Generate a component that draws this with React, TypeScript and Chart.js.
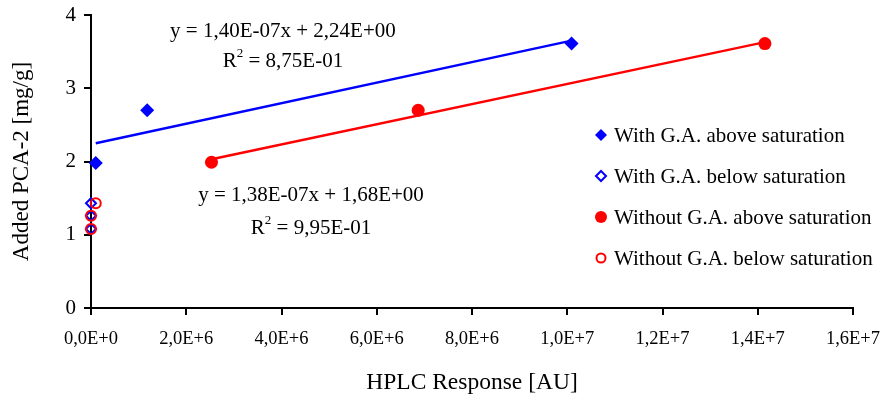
import React, { useEffect, useRef } from 'react';
import { Chart, registerables } from 'chart.js';

Chart.register(...registerables);

// ---- data ----
const blueAboveX = [0.1e6, 1.18e6, 10.09e6];
const blueAboveY = [1.98, 2.7, 3.61];
const blueBelowX = [0, 0, 0];
const blueBelowY = [1.43, 1.26, 1.08];
const redAboveX = [2.53e6, 6.87e6, 14.15e6];
const redAboveY = [1.99, 2.7, 3.61];
const redBelowX = [0.1e6, 0, 0];
const redBelowY = [1.43, 1.26, 1.08];

const blueTrendX = [0.1e6, 10.09e6];
const blueTrendY = [2.25, 3.65];
const redTrendX = [2.53e6, 14.15e6];
const redTrendY = [2.03, 3.63];

const xTickValues = [0, 2e6, 4e6, 6e6, 8e6, 10e6, 12e6, 14e6, 16e6];
const xTickLabels = ['0,0E+0', '2,0E+6', '4,0E+6', '6,0E+6', '8,0E+6', '1,0E+7', '1,2E+7', '1,4E+7', '1,6E+7'];
const yTickValues = [0, 1, 2, 3, 4];
const yTickLabels = ['0', '1', '2', '3', '4'];

const legendLabels = [
  'With G.A. above saturation',
  'With G.A. below saturation',
  'Without G.A. above saturation',
  'Without G.A. below saturation',
];

const eqLines = ['y = 1,40E-07x + 2,24E+00', 'y = 1,38E-07x + 1,68E+00'];
const r2Values = ['8,75E-01', '9,95E-01'];
// label anchor positions (data units)
const eqAnchorX = [4.03e6, 4.62e6];
const eqAnchorY = [3.78, 1.54];
const r2AnchorY = [3.37, 1.09];

const FONT = '"Liberation Serif", "Times New Roman", serif';
const BLUE = '#0000ff';
const RED = '#ff0000';

const pts = (xs: number[], ys: number[]) => xs.map((x, i) => ({ x, y: ys[i] }));

type Mk = { shape: 'diamond' | 'circle'; filled: boolean; color: string; r: number };
const legendMarkers: Mk[] = [
  { shape: 'diamond', filled: true, color: BLUE, r: 6 },
  { shape: 'diamond', filled: false, color: BLUE, r: 5 },
  { shape: 'circle', filled: true, color: RED, r: 6 },
  { shape: 'circle', filled: false, color: RED, r: 4.5 },
];

function drawMarker(ctx: CanvasRenderingContext2D, m: Mk, x: number, y: number) {
  ctx.beginPath();
  if (m.shape === 'diamond') {
    ctx.moveTo(x, y - m.r);
    ctx.lineTo(x + m.r, y);
    ctx.lineTo(x, y + m.r);
    ctx.lineTo(x - m.r, y);
    ctx.closePath();
  } else {
    ctx.arc(x, y, m.r, 0, Math.PI * 2);
  }
  if (m.filled) {
    ctx.fillStyle = m.color;
    ctx.fill();
  } else {
    ctx.fillStyle = '#fff';
    ctx.fill();
    ctx.lineWidth = 2;
    ctx.strokeStyle = m.color;
    ctx.stroke();
  }
}

const annotPlugin = {
  id: 'annot',
  afterDatasetsDraw(chart: any) {
    const { ctx, scales, chartArea } = chart;
    const xs = scales.x;
    const ys = scales.y;
    ctx.save();
    ctx.fillStyle = '#000';
    ctx.textBaseline = 'middle';
    const big = `21px ${FONT}`;
    const sup = `13px ${FONT}`;
    for (let i = 0; i < eqLines.length; i++) {
      const cx = xs.getPixelForValue(eqAnchorX[i]);
      const cy = ys.getPixelForValue(eqAnchorY[i]);
      ctx.font = big;
      ctx.textAlign = 'center';
      ctx.fillStyle = '#000';
      ctx.fillText(eqLines[i], cx, cy);
      // R^2 line
      const ry = ys.getPixelForValue(r2AnchorY[i]);
      ctx.font = big;
      const wR = ctx.measureText('R').width;
      const rest = ' = ' + r2Values[i];
      const wRest = ctx.measureText(rest).width;
      ctx.font = sup;
      const w2 = ctx.measureText('2').width;
      const total = wR + w2 + wRest;
      let sx = cx - total / 2;
      ctx.textAlign = 'left';
      ctx.font = big;
      ctx.fillText('R', sx, ry);
      sx += wR;
      ctx.font = sup;
      ctx.fillText('2', sx, ry - 8);
      sx += w2;
      ctx.font = big;
      ctx.fillText(rest, sx, ry);
    }
    // legend
    const lx = chartArea.left + 510;
    const ly0 = chartArea.top + 120;
    const step = 41;
    for (let i = 0; i < legendLabels.length; i++) {
      const y = ly0 + i * step;
      drawMarker(ctx, legendMarkers[i], lx, y);
      ctx.fillStyle = '#000';
      ctx.font = big;
      ctx.textAlign = 'left';
      ctx.fillText(legendLabels[i], lx + 13, y + 1);
    }
    ctx.restore();
  },
};

export default function App() {
  const ref = useRef<HTMLCanvasElement | null>(null);
  useEffect(() => {
    document.body.style.margin = '0';
    if (!ref.current) return;
    const chart = new Chart(ref.current, {
      type: 'scatter',
      data: {
        datasets: [
          {
            label: 'blueTrend',
            type: 'line',
            data: pts(blueTrendX, blueTrendY),
            borderColor: BLUE,
            borderWidth: 2.5,
            pointRadius: 0,
            showLine: true,
            fill: false,
            order: 5,
            clip: false,
          } as any,
          {
            label: 'redTrend',
            type: 'line',
            data: pts(redTrendX, redTrendY),
            borderColor: RED,
            borderWidth: 2.5,
            pointRadius: 0,
            showLine: true,
            fill: false,
            order: 5,
            clip: false,
          } as any,
          {
            label: legendLabels[0],
            data: pts(blueAboveX, blueAboveY),
            pointStyle: 'rectRot',
            pointRadius: 7,
            backgroundColor: BLUE,
            borderColor: BLUE,
            borderWidth: 0,
            order: 3,
            clip: false,
          } as any,
          {
            label: legendLabels[1],
            data: pts(blueBelowX, blueBelowY),
            pointStyle: 'rectRot',
            pointRadius: 5,
            backgroundColor: 'rgba(255,255,255,0)',
            borderColor: BLUE,
            borderWidth: 2,
            order: 4,
            clip: false,
          } as any,
          {
            label: legendLabels[2],
            data: pts(redAboveX, redAboveY),
            pointStyle: 'circle',
            pointRadius: 6.5,
            backgroundColor: RED,
            borderColor: RED,
            borderWidth: 0,
            order: 2,
            clip: false,
          } as any,
          {
            label: legendLabels[3],
            data: pts(redBelowX, redBelowY),
            pointStyle: 'circle',
            pointRadius: 5,
            backgroundColor: 'rgba(255,255,255,0)',
            borderColor: RED,
            borderWidth: 2,
            order: 1,
            clip: false,
          } as any,
        ],
      },
      options: {
        animation: false,
        responsive: false,
        layout: { padding: { left: 0, top: 15, right: 32, bottom: 0 } },
        plugins: {
          legend: { display: false },
          tooltip: { enabled: false },
        },
        scales: {
          x: {
            type: 'linear',
            min: 0,
            max: 16e6,
            afterBuildTicks: (s: any) => {
              s.ticks = xTickValues.map((v) => ({ value: v }));
            },
            afterFit: (s: any) => {
              s.height = 95;
              s.paddingLeft = 0;
              s.paddingRight = 0;
            },
            ticks: {
              color: '#000',
              font: { family: FONT, size: 18.5 },
              padding: 13,
              maxRotation: 0,
              autoSkip: false,
              callback: (v: any) => {
                const i = xTickValues.indexOf(Number(v));
                return i >= 0 ? xTickLabels[i] : '';
              },
            },
            grid: {
              display: true,
              drawOnChartArea: false,
              drawTicks: true,
              tickLength: 7,
              color: '#000',
              lineWidth: 2,
            },
            border: { display: true, color: '#000', width: 2 },
            title: {
              display: true,
              text: 'HPLC Response [AU]',
              color: '#000',
              font: { family: FONT, size: 23.5 },
              padding: { top: 0, bottom: 6 },
            },
          },
          y: {
            type: 'linear',
            min: 0,
            max: 4,
            afterBuildTicks: (s: any) => {
              s.ticks = yTickValues.map((v) => ({ value: v }));
            },
            afterFit: (s: any) => {
              s.width = 91;
              s.paddingTop = 0;
              s.paddingBottom = 0;
            },
            ticks: {
              color: '#000',
              font: { family: FONT, size: 21 },
              padding: 8,
              callback: (v: any) => {
                const i = yTickValues.indexOf(Number(v));
                return i >= 0 ? yTickLabels[i] : '';
              },
            },
            grid: {
              display: true,
              drawOnChartArea: false,
              drawTicks: true,
              tickLength: 7,
              color: '#000',
              lineWidth: 2,
            },
            border: { display: true, color: '#000', width: 2 },
            title: {
              display: true,
              text: 'Added PCA-2 [mg/g]',
              color: '#000',
              font: { family: FONT, size: 23 },
              padding: { top: 8, bottom: 0 },
            },
          },
        },
      },
      plugins: [annotPlugin],
    });
    return () => chart.destroy();
  }, []);
  return (
    <div style={{ width: 885, height: 403 }}>
      <canvas ref={ref} width={885} height={403} style={{ display: 'block' }} />
    </div>
  );
}
